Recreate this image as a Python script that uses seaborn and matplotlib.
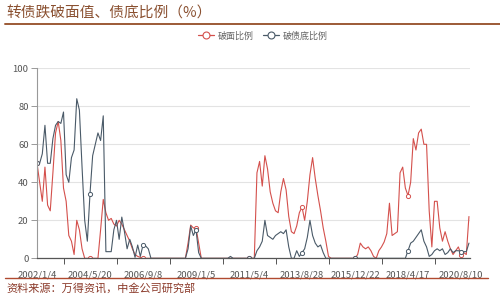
import numpy as np
import pandas as pd
import matplotlib
matplotlib.use('Agg')
import matplotlib.pyplot as plt
import seaborn as sns
from matplotlib.lines import Line2D

sns.set_theme(style='white')
plt.rcParams['font.family'] = ['Noto Sans CJK SC', 'DejaVu Sans']

title = '转债跌破面值、债底比例（%）'
source = '资料来源：万得资讯，中金公司研究部'
series_names = ['破面比例', '破债底比例']
tick_labels = ['2002/1/4', '2004/5/20', '2006/9/8', '2009/1/5', '2011/5/4',
               '2013/8/28', '2015/12/22', '2018/4/17', '2020/8/10']
label_step = 20

break_par = [
    50, 40, 30, 48, 28, 25, 45, 66, 72, 62,
    37, 30, 12, 9, 2, 20, 15, 5, 0, 0,
    0, 0, 0, 0, 15, 31, 24, 20, 21, 18,
    17, 20, 18, 15, 12, 9, 5, 2, 1, 0.5,
    0, 0, 0, 0, 0, 0, 0, 0, 0, 0,
    0, 0, 0, 0, 0, 0, 0, 8, 17.5, 16,
    16, 8, 0, 0, 0, 0, 0, 0, 0, 0,
    0, 0, 0, 0, 0, 0, 0, 0, 0, 0,
    0, 0, 0, 45, 51, 38, 54, 47, 35, 29,
    25, 24, 35, 42, 36, 22, 14, 13, 17, 24,
    27, 20, 30, 44, 53, 42, 33, 25, 16, 9,
    1, 0, 0, 0, 0, 0, 0, 0, 0, 0,
    0, 2, 8, 6, 5, 6, 4, 1, 0, 4,
    6, 8.6, 13, 29, 12, 13, 14, 45, 48, 37,
    33, 40, 63, 57, 66, 68, 60, 60, 25, 6,
    30, 30, 16, 9, 14, 9, 5, 2, 4, 6,
    2, 3, 2, 22,
]

break_floor = [
    50, 50, 55, 70, 50, 50, 63, 70, 72, 71,
    77, 44, 40, 53, 57, 84, 78, 48, 20, 9,
    34, 54, 60, 66, 62, 75, 3.5, 3.5, 3.5, 15,
    20, 10, 21.7, 14, 5, 10, 6, 0.5, 7, 1,
    7, 6.5, 5, 0, 0, 0, 0, 0, 0, 0,
    0, 0, 0, 0, 0, 0, 0, 5, 17, 12,
    15, 3, 0, 0, 0, 0, 0, 0, 0, 0,
    0, 0, 0, 1, 0, 0, 0, 0, 0, 0,
    0, 0, 0, 4, 6, 9, 20, 12, 11, 10,
    12, 13, 14, 13, 15, 6, 0, 0, 4, 1,
    3, 5, 11, 20, 12, 8, 6, 7, 3, 0,
    0, 0, 0, 0, 0, 0, 0, 0, 0, 0,
    0, 0, 0, 0, 0, 0, 0, 0, 0, 0,
    0, 0, 0, 0, 0, 0, 0, 0, 0, 0,
    4, 8, 9, 11, 13, 15, 9, 6, 1, 2,
    4, 5, 4, 5, 2, 3, 5, 3, 4, 4,
    3.5, 3.5, 3.5, 8,
]

colors = ['#d4504c', '#4a5a68']

idx = np.arange(len(break_par))
df = pd.DataFrame({'idx': idx, series_names[0]: break_par, series_names[1]: break_floor})

fig = plt.figure(figsize=(5, 3.03), dpi=100)
ax = fig.add_axes([0.074, 0.1475, 0.866, 0.627])

mark_idx = list(range(0, len(idx), label_step))
for name, c in zip(series_names, colors):
    sns.lineplot(data=df, x='idx', y=name, color=c, linewidth=0.8, ax=ax,
                 marker='o', markevery=mark_idx, markersize=3.0,
                 markerfacecolor='white', markeredgecolor=c, markeredgewidth=0.7)

ax.set_ylim(0, 100)
ax.set_xlim(0, (470 - 37) / 2.65)
ax.set_yticks(range(0, 101, 20))
ax.set_xticks(mark_idx[:len(tick_labels)])
ax.set_xticklabels(tick_labels)
ax.set_xticks([m + label_step / 2 for m in mark_idx[:len(tick_labels) - 1]] + [0], minor=True)
ax.set_xlabel('')
ax.set_ylabel('')
ax.grid(axis='y', color='#e3e3e3', linewidth=0.8)
ax.grid(axis='x', visible=False)
ax.set_axisbelow(True)
for s in ['top', 'right']:
    ax.spines[s].set_visible(False)
ax.spines['left'].set_color('#999999')
ax.spines['left'].set_linewidth(0.8)
ax.spines['bottom'].set_color('#555555')
ax.spines['bottom'].set_linewidth(0.9)
ax.tick_params(axis='y', which='major', left=True, length=4, width=0.7, color='#999999',
               labelsize=6.8, labelcolor='#555555', pad=2)
ax.tick_params(axis='x', which='major', bottom=False, labelsize=6.8, labelcolor='#555555', pad=3)
ax.tick_params(axis='x', which='minor', bottom=True, length=4, width=0.7, color='#555555')

handles = [Line2D([0], [0], color=c, linewidth=0.9, marker='o', markersize=5,
                  markerfacecolor='white', markeredgecolor=c, markeredgewidth=0.8)
           for c in colors]
leg = fig.legend(handles, series_names, loc='center', bbox_to_anchor=(0.526, 0.881), ncol=2,
                 frameon=False, fontsize=6.5, handlelength=1.8, handletextpad=0.4,
                 columnspacing=1.0)
for t in leg.get_texts():
    t.set_color('#666666')

fig.text(0.012, 1 - 14 / 303, title, fontsize=10.6, color='#8a5030', va='center', ha='left')
fig.add_artist(Line2D([0.01, 1.0], [1 - 23.5 / 303] * 2, color='#9c5a36', linewidth=1.4))
fig.add_artist(Line2D([0.01, 0.975], [1 - 277.5 / 303] * 2, color='#b04a30', linewidth=1.0))
fig.text(0.012, 1 - 288 / 303, source, fontsize=8, color='#8b3a2a', va='center', ha='left')

fig.savefig('out.png', dpi=100)
